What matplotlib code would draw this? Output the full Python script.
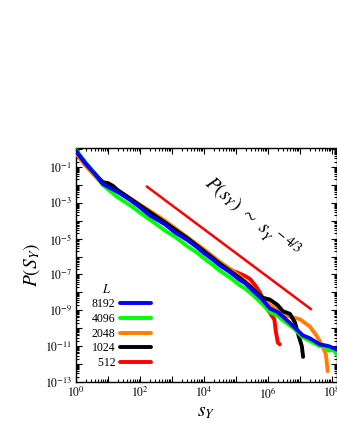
import numpy as np
import matplotlib
matplotlib.use("Agg")
import matplotlib.pyplot as plt
from matplotlib.ticker import FixedLocator, FuncFormatter, NullFormatter

plt.rcParams['font.family'] = ['Liberation Serif', 'DejaVu Serif']
plt.rcParams['mathtext.fontset'] = 'stix'

# values, as log10 exponents
sizes = ['8192', '4096', '2048', '1024', '\u2007512']
colors = ['#0000ff', '#00ff00', '#ff8000', '#000000', '#ff0000']

lx_8192 = [0.0, 0.3, 0.6, 0.84, 1.1, 1.31, 1.7, 2.0, 2.31, 2.78, 3.1, 3.5, 3.8, 4.0, 4.3, 4.5,
           4.8, 5.12, 5.3, 5.5, 5.8, 6.06, 6.3, 6.5, 6.8, 7.09, 7.3, 7.62, 7.9, 8.16]
ly_8192 = [-0.1, -0.8, -1.4, -1.95, -2.2, -2.4, -2.85, -3.25, -3.7, -4.2, -4.65, -5.1, -5.5, -5.8,
           -6.2, -6.5, -6.85, -7.3, -7.5, -7.85, -8.35, -8.9, -9.1, -9.4, -9.9, -10.4, -10.55, -10.9, -11.0, -11.2]

lx_4096 = [0.0, 0.3, 0.6, 0.84, 1.1, 1.31, 1.7, 2.0, 2.4, 2.78, 3.1, 3.5, 3.8, 4.0, 4.3, 4.5,
           4.8, 5.12, 5.3, 5.5, 5.8, 6.06, 6.3, 6.5, 6.8, 7.09, 7.3, 7.62, 7.75, 7.9, 8.05, 8.16]
ly_4096 = [-0.05, -0.75, -1.4, -2.0, -2.4, -2.7, -3.15, -3.55, -4.05, -4.55, -4.9, -5.45, -5.8, -6.1,
           -6.5, -6.8, -7.15, -7.6, -7.8, -8.1, -8.6, -9.1, -9.3, -9.6, -10.0, -10.5, -10.7, -11.0,
           -10.95, -11.25, -11.2, -11.5]

lx_2048 = [0.0, 0.3, 0.6, 0.84, 1.1, 1.31, 2.0, 2.78, 3.5, 4.0, 4.5, 5.12, 5.5, 6.06, 6.3,
           6.59, 7.0, 7.31, 7.53, 7.72, 7.81, 7.87]
ly_2048 = [-0.25, -0.9, -1.5, -1.95, -2.1, -2.3, -3.1, -4.0, -4.95, -5.6, -6.3, -7.1, -7.7, -8.7, -8.95,
           -9.3, -9.5, -9.9, -10.44, -11.06, -11.44, -12.4]

lx_1024 = [0.0, 0.3, 0.6, 0.84, 1.0, 1.15, 1.31, 2.0, 2.78, 3.5, 4.0, 4.5, 5.12, 5.5, 5.84,
           6.06, 6.3, 6.47, 6.69, 6.85, 6.94, 7.06, 7.1]
ly_1024 = [-0.1, -0.8, -1.4, -1.85, -1.9, -2.05, -2.3, -3.15, -4.1, -5.0, -5.7, -6.4, -7.2, -7.75, -8.3,
           -8.4, -8.7, -9.05, -9.2, -9.7, -10.3, -11.0, -11.6]

lx_512 = [0.0, 0.3, 0.6, 0.84, 1.1, 1.31, 2.0, 2.78, 3.5, 4.0, 4.5, 4.9, 5.12, 5.3, 5.44,
          5.6, 5.75, 5.97, 6.12, 6.2, 6.25, 6.31, 6.37]
ly_512 = [-0.25, -0.9, -1.5, -1.95, -2.15, -2.35, -3.15, -4.05, -5.0, -5.65, -6.35, -6.8, -6.95, -7.1, -7.25,
          -7.6, -8.0, -8.9, -9.3, -9.5, -10.2, -10.8, -10.9]

fit_lx = [2.22, 7.34]
fit_exp = -4.0 / 3.0
fit_lc = 0.86

series = [(lx_8192, ly_8192), (lx_4096, ly_4096), (lx_2048, ly_2048),
          (lx_1024, ly_1024), (lx_512, ly_512)]

fig = plt.figure(figsize=(3.37, 4.36), dpi=100)
ax = fig.add_axes([0.2255, 0.1239, 0.7745, 0.5367])

zorders = [6, 5, 3, 4, 2]
for (lx, ly), lab, c, z in zip(series, sizes, colors, zorders):
    ax.plot(10 ** np.array(lx), 10 ** np.array(ly), color=c, lw=2.8, label=lab,
            zorder=z, solid_capstyle='round')

fx = 10 ** np.array(fit_lx)
ax.plot(fx, 10 ** fit_lc * fx ** fit_exp, color='#ff0000', lw=1.8, zorder=7)

ax.set_xscale('log')
ax.set_yscale('log')
ax.set_xlim(1, 10 ** 8.16)
ax.set_ylim(1e-13, 10 ** 0.06)

ax.xaxis.set_major_locator(FixedLocator([10.0 ** k for k in range(0, 9)]))
ax.xaxis.set_major_formatter(FuncFormatter(
    lambda v, p: r'$10^{%d}$' % round(np.log10(v)) if round(np.log10(v)) % 2 == 0 else ''))
ax.xaxis.set_minor_locator(FixedLocator([m * 10.0 ** k for k in range(0, 9) for m in range(2, 10)]))
ax.xaxis.set_minor_formatter(NullFormatter())
ax.yaxis.set_major_locator(FixedLocator([10.0 ** k for k in range(-13, 1)]))
ax.yaxis.set_major_formatter(FuncFormatter(
    lambda v, p: r'$10^{%d}$' % round(np.log10(v)) if round(np.log10(v)) % 2 != 0 else ''))
ax.yaxis.set_minor_locator(FixedLocator([m * 10.0 ** k for k in range(-13, 1) for m in range(2, 10)]))
ax.yaxis.set_minor_formatter(NullFormatter())
ax.tick_params(which='both', direction='in', top=True, right=True, labelsize=8.5, width=0.8)
ax.tick_params(which='major', length=4.5, pad=3)
ax.tick_params(which='minor', length=2.2)
for s in ax.spines.values():
    s.set_linewidth(1.0)

ax.set_xlabel(r'$s_{Y}$', fontsize=14, labelpad=2)
ax.set_ylabel(r'$P(S_{Y})$', fontsize=14, labelpad=2)

ax.text(10 ** 5.5, 10 ** -3.85, r'$P\left(s_{Y}\right)\ \sim\ s_{Y}^{\ \ -4/3}$',
        fontsize=14, rotation=-40, ha='center', va='center', rotation_mode='anchor')

leg = ax.legend(loc='upper left', bbox_to_anchor=(0.06, 0.357), frameon=False,
                markerfirst=False, fontsize=8.5, handlelength=2.6, handletextpad=0.4,
                labelspacing=0.22, borderaxespad=0, borderpad=0)
ax.text(0.118, 0.395, r'$L$', transform=ax.transAxes, fontsize=9, ha='center', va='center')

fig.savefig('out.png', dpi=100)
